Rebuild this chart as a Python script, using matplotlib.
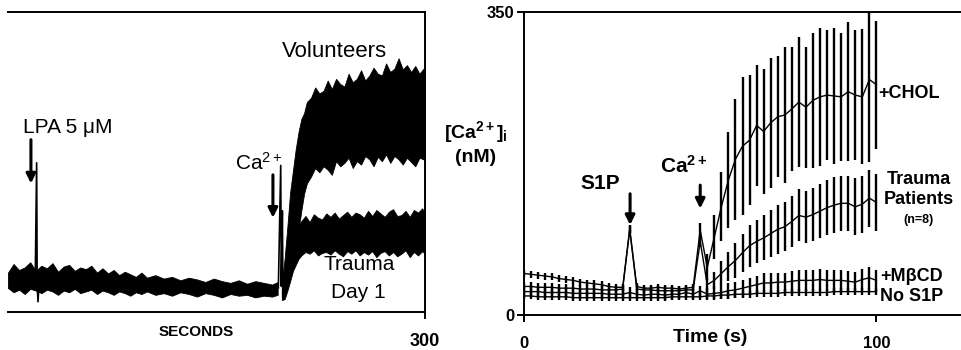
import numpy as np
import matplotlib
matplotlib.use("Agg")
import matplotlib.pyplot as plt

plt.rcParams['font.family'] = ['Liberation Sans', 'DejaVu Sans']
plt.rcParams['mathtext.fontset'] = 'custom'
plt.rcParams['mathtext.rm'] = 'Liberation Sans'
plt.rcParams['mathtext.it'] = 'Liberation Sans'
plt.rcParams['mathtext.bf'] = 'Liberation Sans:bold'

# ---- left panel: Ca2+ traces (envelope of noisy recordings) ----
base_t = [0, 4, 8, 12, 16, 20, 24, 28, 32, 36, 40, 44, 48, 52, 56, 60, 64, 68, 72, 76,
          80, 84, 88, 92, 96, 100, 106, 112, 118, 124, 130, 136, 142, 148, 154, 160,
          166, 172, 178, 184, 190, 194]
base_hi = [46, 56, 49, 52, 58, 48, 54, 51, 57, 47, 53, 55, 48, 52, 50, 54, 46, 51, 45, 49,
           43, 47, 44, 41, 46, 40, 43, 39, 41, 37, 40, 38, 35, 39, 36, 34,
           37, 33, 36, 34, 32, 35]
base_lo = [28, 23, 26, 21, 27, 25, 22, 26, 24, 20, 25, 23, 27, 22, 24, 26, 21, 25, 23, 20,
           24, 22, 19, 23, 21, 24, 20, 22, 19, 23, 21, 18, 22, 20, 17, 21,
           19, 20, 17, 19, 18, 20]

vol_t = [197, 199, 201, 203, 205, 207, 209, 211, 213, 215, 218, 221, 224, 227, 230, 233,
         236, 239, 242, 245, 248, 251, 254, 257, 260, 263, 266, 269, 272, 275, 278, 281,
         284, 287, 290, 293, 296, 299, 300]
vol_hi = [35, 62, 100, 140, 165, 190, 210, 225, 232, 245, 250, 262, 255, 258, 270, 260,
          272, 266, 263, 278, 268, 272, 282, 270, 276, 285, 278, 276, 290, 280, 284, 296,
          283, 288, 280, 287, 278, 284, 276]
vol_lo = [18, 20, 32, 45, 58, 72, 95, 118, 138, 150, 158, 168, 163, 170, 166, 160,
          176, 170, 174, 180, 168, 176, 172, 182, 178, 170, 181, 176, 184, 174, 182, 178,
          172, 180, 175, 170, 180, 178, 185]

tr_t = [197, 199, 201, 203, 205, 207, 209, 211, 214, 217, 220, 223, 226, 229, 232, 235,
        238, 241, 244, 247, 250, 253, 256, 259, 262, 265, 268, 271, 274, 277, 280, 283,
        286, 289, 292, 295, 298, 300]
tr_hi = [30, 50, 66, 80, 88, 94, 100, 106, 112, 105, 114, 110, 108, 115, 111, 116,
         109, 113, 117, 111, 116, 114, 110, 118, 112, 119, 115, 111, 117, 120, 112, 113,
         118, 111, 119, 116, 121, 114]
tr_lo = [14, 15, 25, 36, 48, 55, 62, 66, 70, 68, 72, 66, 69, 70, 67, 72,
         68, 65, 71, 68, 72, 66, 70, 67, 71, 64, 69, 71, 66, 70, 65, 68,
         72, 64, 70, 66, 71, 68]

lpa_t = [19.6, 20.6, 21.0, 21.6, 22.4]
lpa_v = [38, 174, 30, 12, 36]
ca_t = [194.5, 196.2, 196.6, 197.4, 197.8, 198.5]
ca_v = [28, 171, 30, 118, 18, 35]

# ---- right panel: mean +/- SEM ----
t_r = list(range(0, 101, 2))
chol = [48, 47, 46, 45, 44, 42, 41, 40, 38, 37, 36, 35, 33, 32, 32, 99, 33, 31, 31, 32,
        31, 31, 30, 31, 32, 98, 55, 90, 125, 156, 180, 195, 202, 219, 212, 222, 229, 231,
        238, 246, 240, 248, 252, 254, 253, 252, 258, 254, 252, 272, 266]
chol_err = [4] * 25 + [8, 15, 25, 40, 55, 70, 80, 75, 70, 72, 75, 70, 78, 72, 75, 70,
                       78, 80, 75, 78, 74, 80, 75, 78, 95, 74]
trauma = [33, 33, 32, 32, 32, 31, 31, 31, 30, 30, 30, 29, 29, 29, 30, 99, 30, 29, 29, 28,
          28, 28, 28, 29, 29, 85, 35, 40, 48, 56, 63, 72, 80, 85, 89, 94, 99, 102, 108,
          115, 113, 116, 120, 124, 127, 129, 129, 125, 128, 135, 130]
trauma_err = [5] * 25 + [6, 8, 10, 14, 17, 20, 22, 24, 25, 26, 27, 28, 28, 29, 30, 30,
                         31, 31, 32, 32, 32, 32, 33, 33, 33, 33]
mbcd = [27, 27, 27, 26, 26, 26, 26, 25, 25, 25, 25, 25, 24, 24, 24, 26, 24, 23, 24, 24,
        23, 24, 24, 26, 24, 28, 24, 25, 26, 28, 29, 31, 33, 35, 37, 37, 38, 38, 39, 40,
        40, 40, 41, 40, 40, 40, 39, 38, 41, 43, 40]
mbcd_err = [6] * 26 + [7, 8, 8, 9, 9, 10, 10, 10, 11, 11, 11, 11, 12, 12, 12, 12,
                       12, 12, 12, 12, 12, 12, 12, 13, 12]
nos1p = [22, 22, 21, 21, 21, 21, 21, 20, 20, 20, 20, 20, 20, 20, 20, 20, 20, 20, 20, 20,
         20, 21, 21, 21, 21, 21, 22, 22, 23, 23, 24, 24, 24, 25, 25, 25, 25, 26, 26, 26,
         26, 26, 26, 26, 27, 27, 27, 27, 27, 27, 27]
nos1p_err = [4] * 51

fig = plt.figure(figsize=(9.61, 3.5), dpi=100)

# left panel
ax1 = fig.add_axes([8 / 961, 38 / 350, 417 / 961, 300 / 350])
ax1.fill_between(base_t, base_lo, base_hi, color='k', lw=0.6)
ax1.fill_between(vol_t, vol_lo, vol_hi, color='k', lw=0.6)
ax1.fill_between(tr_t, tr_lo, tr_hi, color='k', lw=0.6)
ax1.plot(lpa_t, lpa_v, color='k', lw=1.2)
ax1.plot(ca_t, ca_v, color='k', lw=1.2)
ax1.set_xlim(0, 300)
ax1.set_ylim(0, 350)
ax1.spines['left'].set_visible(False)
for s in ['top', 'right', 'bottom']:
    ax1.spines[s].set_linewidth(1.4)
ax1.set_yticks([])
ax1.set_xticks([300])
ax1.set_xticklabels(['300'], fontsize=13, fontweight='bold')
ax1.tick_params(axis='x', length=5, width=1.4, pad=10)
ax1.set_xlabel('SECONDS', fontsize=11, fontweight='bold')
ax1.xaxis.set_label_coords(0.451, -0.045)

arrow = dict(arrowstyle='-|>', lw=2.2, color='k', mutation_scale=14, shrinkA=0, shrinkB=0)
ax1.annotate('', xy=(16.5, 150), xytext=(16.5, 201), arrowprops=arrow)
ax1.annotate('', xy=(190.6, 110), xytext=(190.6, 160), arrowprops=arrow)
ax1.text(43, 215, 'LPA 5 \u03bcM', fontsize=15, ha='center', va='center')
ax1.text(180, 174, 'Ca$^{2+}$', fontsize=15, ha='center', va='center')
ax1.text(235, 304, 'Volunteers', fontsize=16, ha='center', va='center')
ax1.text(253, 55, 'Trauma', fontsize=15, ha='center', va='center')
ax1.text(252, 23, 'Day 1', fontsize=15, ha='center', va='center')

# right panel
ax2 = fig.add_axes([524 / 961, 35 / 350, 437 / 961, 303 / 350])
eb = dict(ecolor='k', elinewidth=1.7, capsize=0, color='k', lw=1.0)
ax2.errorbar(t_r, nos1p, yerr=nos1p_err, **eb)
ax2.errorbar(t_r, mbcd, yerr=mbcd_err, **eb)
ax2.errorbar(t_r, trauma, yerr=trauma_err, **eb)
ax2.errorbar(t_r, chol, yerr=chol_err, **eb)
ax2.set_xlim(0, 124)
ax2.set_ylim(0, 350)
ax2.spines['right'].set_visible(False)
for s in ['top', 'left', 'bottom']:
    ax2.spines[s].set_linewidth(1.4)
ax2.set_xticks([0, 100])
ax2.set_xticklabels(['0', '100'], fontsize=12, fontweight='bold')
ax2.set_yticks([0, 350])
ax2.set_yticklabels(['0', '350'], fontsize=12, fontweight='bold')
ax2.tick_params(length=5, width=1.4)
ax2.tick_params(axis='x', pad=10)
ax2.tick_params(axis='y', pad=2)
ax2.set_xlabel('Time (s)', fontsize=14, fontweight='bold')
ax2.xaxis.set_label_coords(0.426, -0.045)
ax2.set_ylabel('$\\mathbf{[Ca^{2+}]_i}$\n(nM)', fontsize=14, fontweight='bold',
               rotation=0, ha='center', va='center', linespacing=1.3)
ax2.yaxis.set_label_coords(-0.11, 0.57)

ax2.annotate('', xy=(30.1, 104), xytext=(30.1, 140), arrowprops=arrow)
ax2.annotate('', xy=(50, 123), xytext=(50, 150), arrowprops=arrow)
ax2.text(21.6, 152, 'S1P', fontsize=15, fontweight='bold', ha='center', va='center')
ax2.text(45.2, 172, '$\\mathbf{Ca^{2+}}$', fontsize=15, ha='center', va='center')
ax2.text(100.4, 256, '+CHOL', fontsize=13, fontweight='bold', ha='left', va='center')
ax2.text(112, 156, 'Trauma', fontsize=13, fontweight='bold', ha='center', va='center')
ax2.text(112, 133, 'Patients', fontsize=13, fontweight='bold', ha='center', va='center')
ax2.text(112, 110, '(n=8)', fontsize=9, fontweight='bold', ha='center', va='center')
ax2.text(110, 44, '+M\u03b2CD', fontsize=13, fontweight='bold', ha='center', va='center')
ax2.text(110, 21, 'No S1P', fontsize=13, fontweight='bold', ha='center', va='center')

fig.savefig('out.png', dpi=100)
